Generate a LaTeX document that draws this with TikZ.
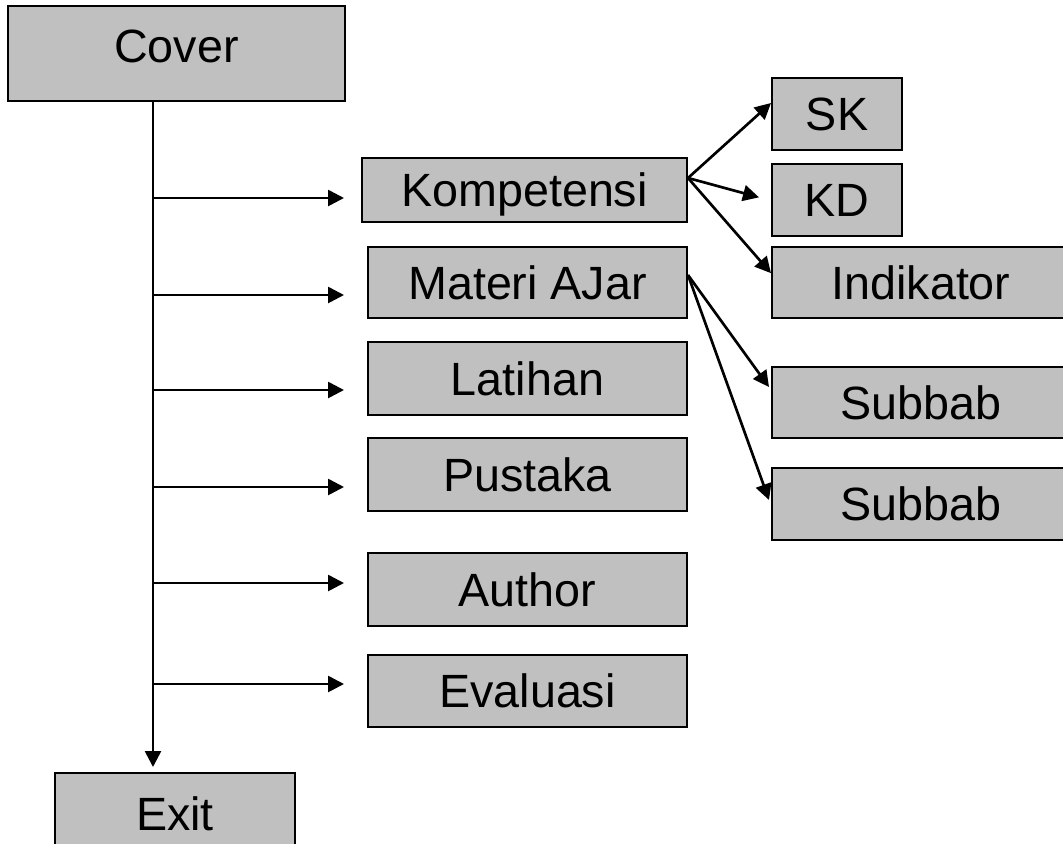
\documentclass[tikz,border=0pt]{standalone}
\usepackage{fontspec}
\setmainfont{Liberation Sans}
\usetikzlibrary{arrows.meta}
\definecolor{boxgray}{RGB}{192,192,192}
\tikzset{
box/.style={draw,fill=boxgray,line width=1.5pt,inner sep=0pt,font=\fontsize{35}{42}\selectfont,text height=25pt,text depth=0pt},
arr/.style={line width=2pt,-{Triangle[length=12pt,width=12pt]}}
}

\begin{document}
\begin{tikzpicture}[x=0.75pt,y=-0.75pt]
\clip (0,0) rectangle (1063,843);
\node[box,minimum width=252.75pt,minimum height=71.25pt,text depth=12pt] (cover) at (176.5,53.5) {Cover};
\node[box,minimum width=243.75pt,minimum height=48pt] (kom) at (524.5,190) {Kompetensi};
\node[box,minimum width=239.25pt,minimum height=53.25pt] (mat) at (527.5,282.5) {Materi AJar};
\node[box,minimum width=239.25pt,minimum height=54.75pt] (lat) at (527.5,378.5) {Latihan};
\node[box,minimum width=239.25pt,minimum height=54.75pt] (pus) at (527.5,474.5) {Pustaka};
\node[box,minimum width=239.25pt,minimum height=54.75pt] (aut) at (527.5,589.5) {Author};
\node[box,minimum width=239.25pt,minimum height=54pt] (eva) at (527.5,691) {Evaluasi};
\node[box,minimum width=97.5pt,minimum height=54pt] (sk) at (837,114) {SK};
\node[box,minimum width=97.5pt,minimum height=54pt] (kd) at (837,200) {KD};
\node[box,minimum width=223.5pt,minimum height=53.25pt] (ind) at (921,282.5) {Indikator};
\node[box,minimum width=223.5pt,minimum height=53.25pt] (sub1) at (921,402.5) {Subbab};
\node[box,minimum width=223.5pt,minimum height=54pt] (sub2) at (921,504) {Subbab};
\node[box,minimum width=180pt,minimum height=61.5pt] (exit) at (175,814) {Exit};
\coordinate (trunk) at (153,101);
\draw[arr] (trunk) -- (trunk |- exit.north) [shorten >=3.75pt];
\foreach \n/\y/\s in {kom/198/12.75,mat/295/17.25,lat/390/17.25,pus/487/17.25,aut/583/17.25,eva/684/17.25}
  \draw[arr,shorten >=\s pt] (trunk |- 0,\y) -- (\n.west |- 0,\y);
\draw[arr] ([yshift=9pt]kom.east) -- ([yshift=8.25pt]sk.west);
\draw[arr] ([yshift=9pt]kom.east) -- ([xshift=-9pt,yshift=2pt]kd.west);
\draw[arr] ([yshift=9pt]kom.east) -- ([yshift=7pt]ind.west);
\draw[arr] ([yshift=5.6pt]mat.east) -- ([xshift=-1.5pt,yshift=11.6pt]sub1.west);
\draw[arr] ([yshift=5.6pt]mat.east) -- ([xshift=-1.5pt,yshift=3pt]sub2.west);
\end{tikzpicture}
\end{document}
